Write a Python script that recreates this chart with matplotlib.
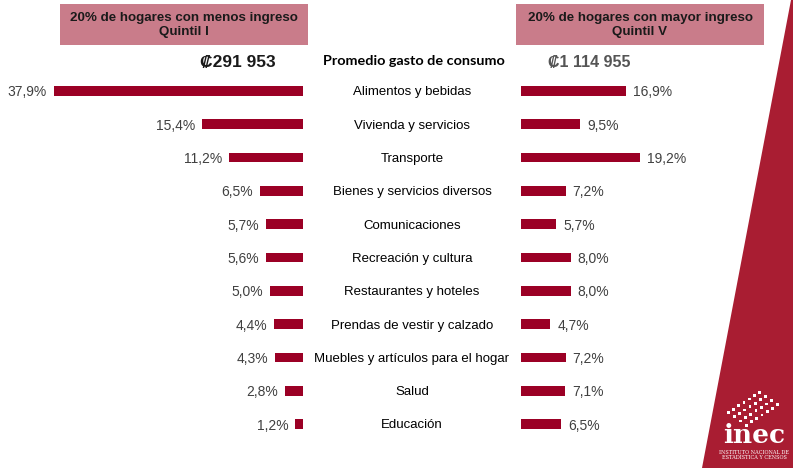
import matplotlib
matplotlib.use("Agg")
import matplotlib.pyplot as plt
from matplotlib.patches import Rectangle, Polygon
from matplotlib.transforms import blended_transform_factory

categories = [
    "Alimentos y bebidas",
    "Vivienda y servicios",
    "Transporte",
    "Bienes y servicios diversos",
    "Comunicaciones",
    "Recreación y cultura",
    "Restaurantes y hoteles",
    "Prendas de vestir y calzado",
    "Muebles y artículos para el hogar",
    "Salud",
    "Educación",
]
quintil_1 = [37.9, 15.4, 11.2, 6.5, 5.7, 5.6, 5.0, 4.4, 4.3, 2.8, 1.2]
quintil_5 = [16.9, 9.5, 19.2, 7.2, 5.7, 8.0, 8.0, 4.7, 7.2, 7.1, 6.5]
gasto_q1 = "₡291 953"
gasto_q5 = "₡1 114 955"

W, H = 793, 468
BAR = "#9b0025"
BOX = "#c97c8a"
RED = "#a91d32"
TXT = "#404040"


def fx(px):
    return px / W


def fy(py):
    return 1 - py / H


fig = plt.figure(figsize=(W / 100, H / 100), dpi=100)
fig.patch.set_facecolor("white")

# rows: centre of first at y=91 px, spacing 33.3 px
top, step = 91 - 33.3 / 2, 33.3
height = step * len(categories)
ax_l = fig.add_axes([fx(303 - 40 * 6.57), fy(top + height), fx(40 * 6.57), height / H])
ax_r = fig.add_axes([fx(521), fy(top + height), fx(40 * 6.22), height / H])

ypos = list(range(len(categories)))
ax_l.barh(ypos, quintil_1, height=0.29, color=BAR)
ax_r.barh(ypos, quintil_5, height=0.29, color=BAR)
for ax in (ax_l, ax_r):
    ax.set_ylim(len(categories) - 0.5, -0.5)
    ax.axis("off")
ax_l.set_xlim(40, 0)
ax_r.set_xlim(0, 40)

for i, v in enumerate(quintil_1):
    ax_l.annotate(f"{v:.1f}%".replace(".", ","), (v, i), xytext=(-5, 0),
                  textcoords="offset points", ha="right", va="center_baseline",
                  fontsize=10, color=TXT, family="Liberation Sans")
for i, v in enumerate(quintil_5):
    ax_r.annotate(f"{v:.1f}%".replace(".", ","), (v, i), xytext=(5, 0),
                  textcoords="offset points", ha="left", va="center_baseline",
                  fontsize=10, color=TXT, family="Liberation Sans")
trans = blended_transform_factory(fig.transFigure, ax_l.transData)
for i, c in enumerate(categories):
    ax_l.text(fx(412), i, c, transform=trans, ha="center", va="center_baseline",
              fontsize=9.5, color="black", family="Liberation Sans")

# header boxes
for x0, label in [(60, "20% de hogares con menos ingreso\nQuintil I"),
                  (516, "20% de hogares con mayor ingreso\nQuintil V")]:
    fig.add_artist(Rectangle((fx(x0), fy(45)), fx(248), 41 / H, transform=fig.transFigure,
                             color=BOX, lw=0))
    fig.text(fx(x0 + 124), fy(25), label, ha="center", va="center", fontsize=9.6,
             fontweight="bold", color="#1a1a1a", family="Liberation Sans", linespacing=1.2)

fig.text(fx(238), fy(61), gasto_q1, ha="center", va="center_baseline", fontsize=12.5,
         fontweight="bold", color="#1a1a1a", family=["Liberation Sans", "DejaVu Sans"])
fig.text(fx(589), fy(61), gasto_q5, ha="center", va="center_baseline", fontsize=11.5,
         fontweight="bold", color="#555555", family=["Liberation Sans", "DejaVu Sans"])
fig.text(fx(414), fy(60), "Promedio gasto de consumo", ha="center", va="center_baseline",
         fontsize=10.4, fontweight="bold", color="black", family="Lato")

# decorative red wedge and logo
fig.add_artist(Polygon([(fx(791), 1), (1, 1), (1, 0), (fx(702), 0)], closed=True,
                       transform=fig.transFigure, color=RED, lw=0))
for r in range(4):
    for k in range(7):
        px = 727 + r * 6 + k * 5.2
        py = 414 + r * 4.2 - k * 3.4
        fig.add_artist(Rectangle((fx(px), fy(py)), fx(2.8), 2.8 / H,
                                 transform=fig.transFigure, color="white", lw=0))
fig.text(fx(754), fy(443), "inec", ha="center", va="baseline", fontsize=19,
         fontweight="bold", color="white", family="DejaVu Serif")
fig.text(fx(754), fy(455), "INSTITUTO NACIONAL DE\nESTADÍSTICA Y CENSOS", ha="center",
         va="center", fontsize=3.6, color="white", family="DejaVu Serif", linespacing=1.15)

fig.savefig("out.png", dpi=100)
